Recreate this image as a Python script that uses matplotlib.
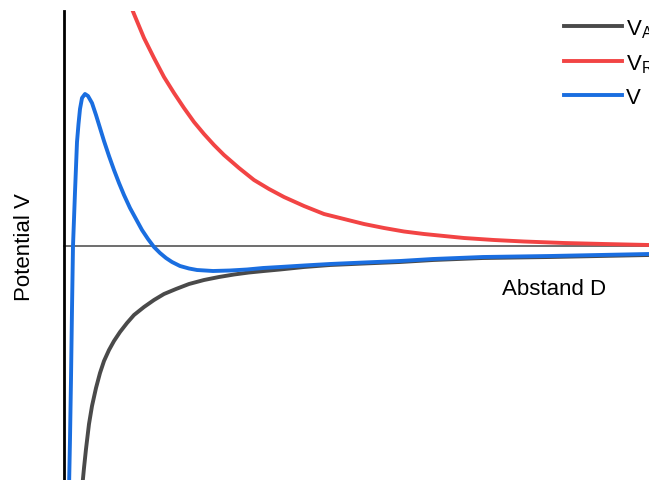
import matplotlib.pyplot as plt

plt.rcParams['font.family'] = ['Liberation Sans', 'DejaVu Sans']
plt.rcParams['mathtext.default'] = 'regular'

# Abstand D und Potential (willkuerliche Einheiten)
d_a = [18, 20, 22, 25, 28, 32, 36, 40, 45, 50, 56, 63, 70, 80, 90, 100, 112, 125, 140, 155, 170,
       185, 200, 216, 240, 266, 300, 336, 369, 419, 486, 585]
v_a = [-243, -222, -203, -178, -160, -142, -127, -115, -104, -95, -86, -77, -69, -61, -54, -48, -43,
       -38, -34, -31, -28.5, -26.5, -25, -23.5, -21, -19, -17.5, -16, -14, -12, -11, -9]

d_r = [60, 70, 80, 90, 100, 110, 120, 130, 140, 150, 160, 175, 190, 205, 220, 240, 260, 280, 300,
       320, 340, 360, 380, 400, 430, 460, 500, 540, 585]
v_r = [257, 232, 208, 188, 169, 153, 138, 124, 112, 101, 91, 78, 66, 57, 49, 40, 32, 27, 22, 18,
       14.5, 12, 10, 8, 6, 4.5, 3, 2, 1]

d_v = [5, 6, 7, 8, 9, 11, 13, 14.5, 16, 18, 21, 24, 28, 32, 36, 40, 45, 50, 55, 60, 66, 72, 78, 84,
       90, 96, 102, 108, 116, 125, 133, 149, 166, 183, 199, 216, 240, 266, 300, 336, 369, 419, 486,
       585]
v_v = [-243, -193, -133, -63, 0, 54, 104, 122, 137, 148, 152, 150, 143, 131, 118, 105, 90, 76, 63,
       51, 38, 27, 16, 7, -1, -7, -12, -16, -20, -22.5, -24, -25, -24.5, -23.5, -22, -21, -19.5,
       -18, -16.5, -15, -13, -11, -10, -8]

labels = ['$V_A$', '$V_R$', 'V']
colors = ['#4a4a4a', '#f24444', '#1a6ee0']

fig = plt.figure(figsize=(6.49, 4.81), dpi=100)
ax = fig.add_axes([0, 0, 1, 469 / 481])
ax.set_xlim(-64, 585)
ax.set_ylim(-234, 235)

ax.axhline(0, xmin=64 / 649, color='#555555', lw=1.2, zorder=1)
ax.plot(d_a, v_a, color=colors[0], lw=2.8, label=labels[0], zorder=2)
ax.plot(d_r, v_r, color=colors[1], lw=2.8, label=labels[1], zorder=3)
ax.plot(d_v, v_v, color=colors[2], lw=2.8, label=labels[2], zorder=4)

for s in ['top', 'right', 'bottom']:
    ax.spines[s].set_visible(False)
ax.spines['left'].set_position(('data', 0))
ax.spines['left'].set_linewidth(2)
ax.set_xticks([])
ax.set_yticks([])

ax.text(438, -48, 'Abstand D', fontsize=16, va='baseline', ha='left')
fig.text(24 / 649, 1 - 247 / 481, 'Potential V', fontsize=16, rotation=90,
         ha='center', va='center')

ax.legend(loc='upper left', bbox_to_anchor=(564 / 649, 1 - 18 / 481),
          bbox_transform=fig.transFigure, frameon=False, fontsize=16,
          handlelength=2.6, handletextpad=0.2, borderpad=0, borderaxespad=0,
          labelspacing=0.56)

fig.savefig('out.png', dpi=100)
